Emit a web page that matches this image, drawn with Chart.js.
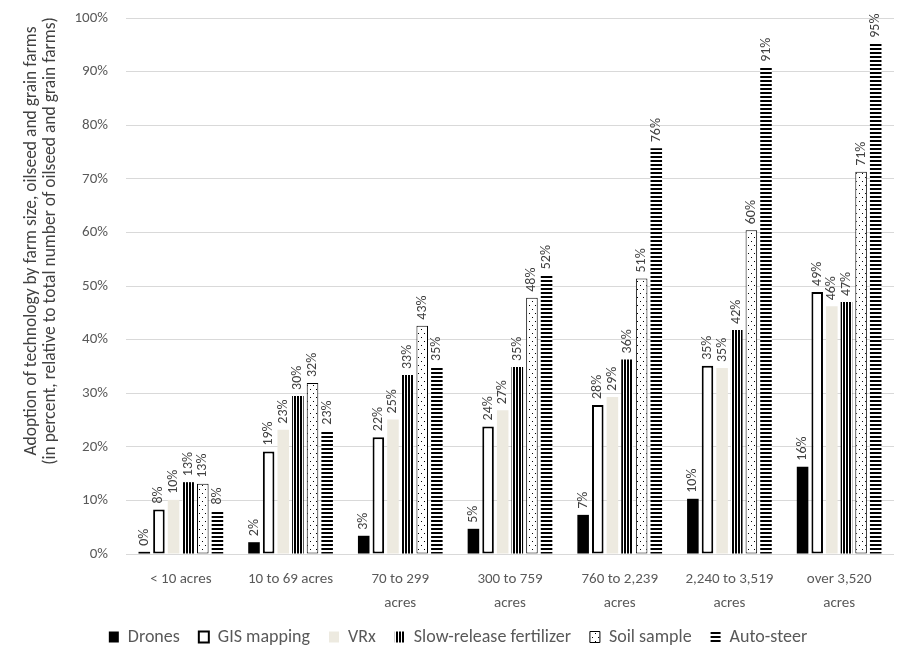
<!DOCTYPE html>
<html>
<head>
<meta charset="utf-8">
<script src="https://cdn.jsdelivr.net/npm/chart.js@4.4.1/dist/chart.umd.min.js"></script>
<style>
  html, body { margin: 0; background: #fff; }
</style>
</head>
<body>
<canvas id="chart" width="909" height="660"></canvas>
<script>
const FONT = 'Carlito, Calibri, Lato, "Noto Sans", sans-serif';

// ---- DATA ----
const categories = [
  ['< 10 acres'],
  ['10 to 69 acres'],
  ['70 to 299', 'acres'],
  ['300 to 759', 'acres'],
  ['760 to 2,239', 'acres'],
  ['2,240 to 3,519', 'acres'],
  ['over 3,520', 'acres'],
];
const seriesNames = ['Drones', 'GIS mapping', 'VRx', 'Slow-release fertilizer', 'Soil sample', 'Auto-steer'];
const drones = [0.4, 2.2, 3.4, 4.7, 7.3, 10.3, 16.3];
const gisMapping = [8.3, 19.1, 21.8, 23.8, 27.8, 35.1, 48.9];
const vrx = [10.1, 23.2, 25.1, 26.8, 29.3, 34.7, 46.2];
const slowRelease = [13.4, 29.5, 33.4, 34.9, 36.3, 41.8, 47.0];
const soilSample = [13.1, 31.9, 42.6, 47.8, 51.4, 60.4, 71.3];
const autoSteer = [8.1, 23.0, 34.9, 52.0, 75.7, 90.7, 95.2];
const yMax = 100;
const yStep = 10;
const yTitleLines = [
  'Adoption of technology by farm size, oilseed and grain farms',
  '(in percent, relative to total number of oilseed and grain farms)',
];

// ---- PATTERNS ----
const canvas = document.getElementById('chart');
const ctx = canvas.getContext('2d');

function mkPattern(w, h, draw) {
  const c = document.createElement('canvas');
  c.width = w; c.height = h;
  const g = c.getContext('2d');
  g.fillStyle = '#fff';
  g.fillRect(0, 0, w, h);
  g.fillStyle = '#000';
  draw(g);
  return ctx.createPattern(c, 'repeat');
}

const vStripes = mkPattern(3, 4, g => g.fillRect(0, 0, 2, 4));
const hStripes = mkPattern(4, 4, g => g.fillRect(0, 0, 4, 2));
const dots = mkPattern(6, 8, g => { g.fillRect(1, 1, 1, 1); g.fillRect(4, 5, 1, 1); });

// ---- PLUGINS ----
// rotated value labels above each bar
const barLabels = {
  id: 'barLabels',
  afterDatasetsDraw(chart) {
    const c = chart.ctx;
    c.save();
    c.font = '14px ' + FONT;
    c.fillStyle = '#404040';
    c.textAlign = 'left';
    c.textBaseline = 'middle';
    chart.data.datasets.forEach((ds, i) => {
      chart.getDatasetMeta(i).data.forEach((bar, j) => {
        c.save();
        c.translate(bar.x, bar.y - 6);
        c.rotate(-Math.PI / 2);
        c.fillText(Math.round(ds.data[j]) + '%', 0, 0);
        c.restore();
      });
    });
    c.restore();
  }
};

// two-line y axis title
const yTitle = {
  id: 'yTitle',
  afterDraw(chart) {
    const c = chart.ctx;
    c.save();
    c.font = '17.5px ' + FONT;
    c.fillStyle = '#404040';
    c.textAlign = 'center';
    c.textBaseline = 'middle';
    yTitleLines.forEach((t, k) => {
      c.save();
      c.translate(32 + k * 19, 241);
      c.rotate(-Math.PI / 2);
      c.fillText(t, 0, 0);
      c.restore();
    });
    c.restore();
  }
};

// ---- CHART ----
new Chart(ctx, {
  type: 'bar',
  data: {
    labels: categories,
    datasets: [
      {label: seriesNames[0], data: drones, backgroundColor: '#000', borderWidth: 0},
      {label: seriesNames[1], data: gisMapping, backgroundColor: '#fff', borderColor: '#000', borderWidth: 2, borderSkipped: false},
      {label: seriesNames[2], data: vrx, backgroundColor: '#EDEAE0', borderWidth: 0},
      {label: seriesNames[3], data: slowRelease, backgroundColor: vStripes, borderWidth: 0},
      {label: seriesNames[4], data: soilSample, backgroundColor: dots, borderColor: '#000', borderWidth: 1, borderSkipped: false},
      {label: seriesNames[5], data: autoSteer, backgroundColor: hStripes, borderWidth: 0},
    ],
  },
  options: {
    responsive: false,
    animation: false,
    datasets: {bar: {categoryPercentage: 0.8, barPercentage: 0.79}},
    layout: {padding: {top: 18, right: 15, left: 22, bottom: 4}},
    plugins: {
      tooltip: {enabled: false},
      legend: {
        position: 'bottom',
        labels: {boxWidth: 10, boxHeight: 11, padding: 19, color: '#595959', font: {family: FONT, size: 18}},
      },
    },
    scales: {
      x: {
        grid: {display: false},
        border: {display: false},
        ticks: {color: '#595959', font: {family: FONT, size: 15, lineHeight: 1.55}, padding: 6, maxRotation: 0, autoSkip: false},
        afterFit: s => { s.height = 55; },
      },
      y: {
        min: 0, max: yMax,
        grid: {color: '#D9D9D9', drawTicks: false},
        border: {display: false},
        ticks: {stepSize: yStep, padding: 18, color: '#595959', font: {family: FONT, size: 15}, callback: v => v + '%'},
        afterFit: s => { s.width = 104; s.paddingTop = 0; s.paddingBottom = 0; },
      },
    },
  },
  plugins: [barLabels, yTitle],
});
</script>
</body>
</html>
